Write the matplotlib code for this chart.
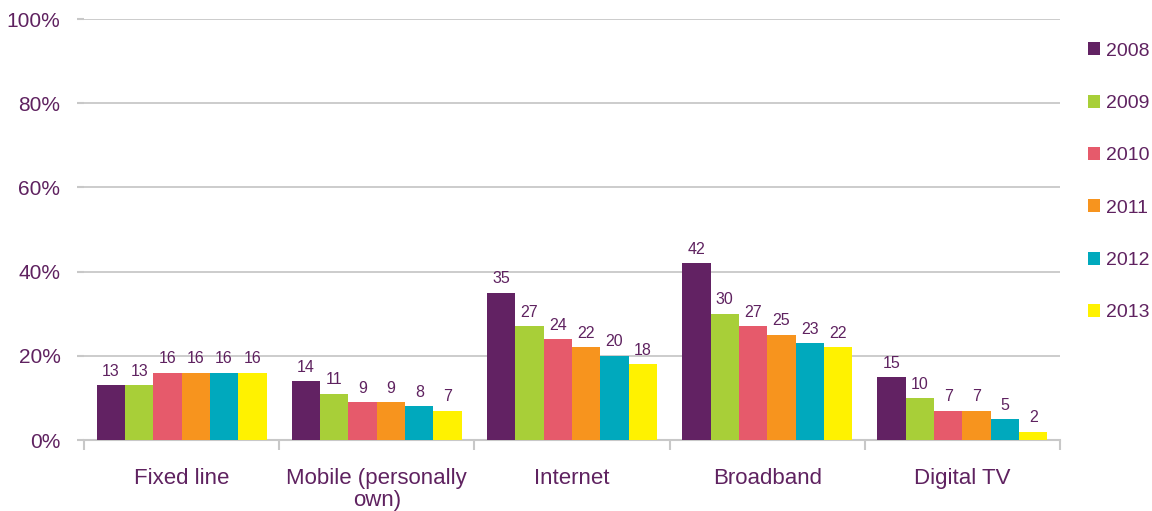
import matplotlib
matplotlib.use("Agg")
import matplotlib.pyplot as plt
import numpy as np

plt.rcParams['font.family'] = ['Liberation Sans', 'DejaVu Sans']

categories = ["Fixed line", "Mobile (personally\nown)", "Internet", "Broadband", "Digital TV"]
years = ["2008", "2009", "2010", "2011", "2012", "2013"]
values = {
    "2008": [13, 14, 35, 42, 15],
    "2009": [13, 11, 27, 30, 10],
    "2010": [16, 9, 24, 27, 7],
    "2011": [16, 9, 22, 25, 7],
    "2012": [16, 8, 20, 23, 5],
    "2013": [16, 7, 18, 22, 2],
}
colors = ["#622263", "#a8cf38", "#e65a6b", "#f7941e", "#00a9bd", "#fff200"]
text_color = "#5f2260"
grid_color = "#c8c8c8"

fig = plt.figure(figsize=(11.52, 5.11), dpi=100)
ax = fig.add_axes([84/1152, 71/511, (1060-84)/1152, (440-19)/511])

n = len(years)
bw = 0.145
x = np.arange(len(categories))
for i, y in enumerate(years):
    pos = x + (i - (n-1)/2) * bw
    ax.bar(pos, values[y], bw, color=colors[i], label=y, zorder=3)
    for xp, v in zip(pos, values[y]):
        ax.text(xp, v + 1.5, str(v), ha='center', va='bottom', fontsize=11.5, color=text_color)

ax.set_xlim(-0.5, len(categories) - 0.5)
ax.set_ylim(0, 100)
ax.set_yticks(np.arange(0, 101, 20))
ax.set_yticklabels([f"{t}%" for t in range(0, 101, 20)])
ax.yaxis.grid(True, color=grid_color, linewidth=1.3, zorder=0)
for s in ['top', 'right', 'left']:
    ax.spines[s].set_visible(False)
ax.spines['bottom'].set_color(grid_color)
ax.spines['bottom'].set_linewidth(1.5)
ax.tick_params(axis='y', colors=grid_color, labelcolor=text_color, labelsize=15, length=5, width=1.5, pad=12)

ax.set_xticks(np.arange(-0.5, len(categories), 1.0))
ax.set_xticklabels([])
ax.tick_params(axis='x', which='major', colors=grid_color, length=7, width=1.5)
ax.set_xticks(x, minor=True)
ax.set_xticklabels(categories, minor=True)
ax.tick_params(axis='x', which='minor', length=0, labelcolor=text_color, labelsize=16, pad=20)
for lbl in ax.get_xticklabels(minor=True):
    lbl.set_linespacing(1.1)

handles, labels = ax.get_legend_handles_labels()
leg = fig.legend(handles, labels, loc='upper left', bbox_to_anchor=(1070/1152, 1 - 25/511),
                 frameon=False, fontsize=14, labelcolor=text_color, handlelength=0.65,
                 handleheight=0.65, handletextpad=0.3, labelspacing=1.8)

fig.savefig("out.png", dpi=100)
